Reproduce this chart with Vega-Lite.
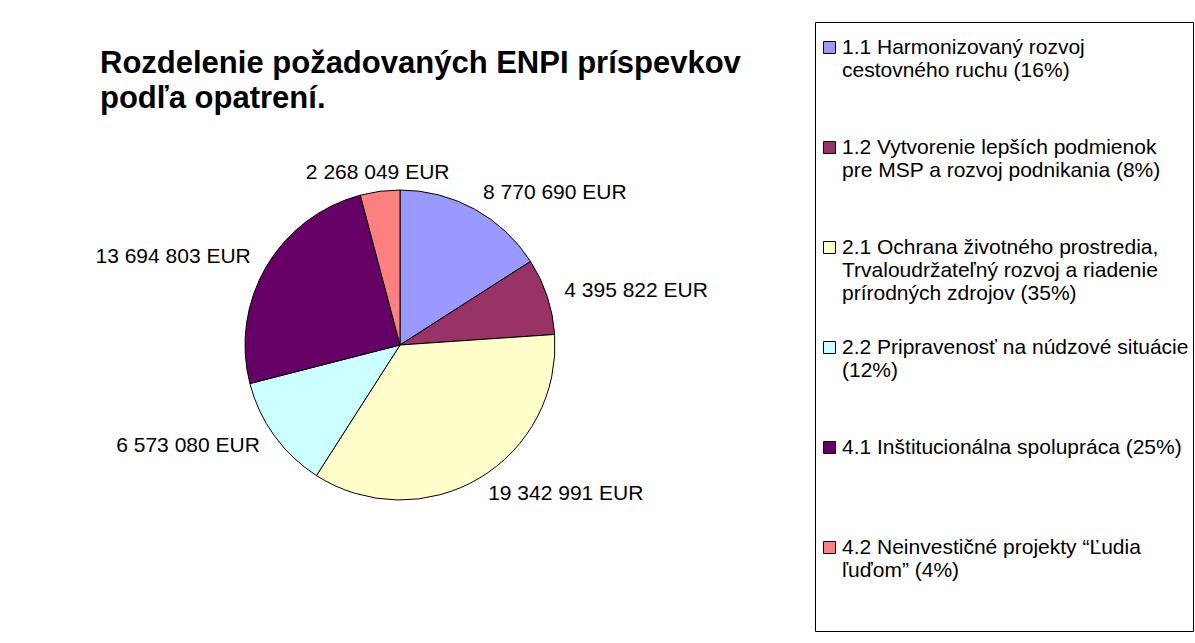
{
  "$schema": "https://vega.github.io/schema/vega-lite/v6.json",
  "autosize": {"type": "none"},
  "width": 780,
  "height": 668,
  "padding": {"left": 10, "top": 11, "right": 405, "bottom": 0},
  "background": "white",
  "title": {
    "text": ["Rozdelenie požadovaných ENPI príspevkov", "podľa opatrení."],
    "anchor": "start",
    "frame": "group",
    "font": "Liberation Sans",
    "fontSize": 31,
    "fontWeight": "bold",
    "lineHeight": 35,
    "color": "black",
    "baseline": "top",
    "dx": 90,
    "dy": 104,
    "offset": 0
  },
  "data": {
    "values": [
      {"cat": "1.1 Harmonizovaný rozvoj|cestovného ruchu (16%)", "eur": 8770690, "eur_text": "8 770 690 EUR"},
      {"cat": "1.2 Vytvorenie lepších podmienok|pre MSP a rozvoj podnikania (8%)", "eur": 4395822, "eur_text": "4 395 822 EUR"},
      {"cat": "2.1 Ochrana životného prostredia,|Trvaloudržateľný rozvoj a riadenie|prírodných zdrojov (35%)", "eur": 19342991, "eur_text": "19 342 991 EUR"},
      {"cat": "2.2 Pripravenosť na núdzové situácie|(12%)", "eur": 6573080, "eur_text": "6 573 080 EUR"},
      {"cat": "4.1 Inštitucionálna spolupráca (25%)", "eur": 13694803, "eur_text": "13 694 803 EUR"},
      {"cat": "4.2 Neinvestičné projekty “Ľudia|ľuďom” (4%)", "eur": 2268049, "eur_text": "2 268 049 EUR"}
    ]
  },
  "encoding": {
    "theta": {"field": "eur", "type": "quantitative", "stack": true},
    "order": {"field": "cat", "type": "ordinal", "sort": "ascending"}
  },
  "layer": [
    {
      "mark": {"type": "arc", "outerRadius": 155, "stroke": "black", "strokeWidth": 1},
      "encoding": {
        "color": {
          "field": "cat",
          "type": "nominal",
          "scale": {"range": ["#9999FF", "#993366", "#FFFFCC", "#CCFFFF", "#660066", "#FF8080"]},
          "legend": {
            "orient": "none",
            "legendX": 805,
            "legendY": 11,
            "title": " ",
            "titleFontSize": 5,
            "titlePadding": 6,
            "strokeColor": "black",
            "fillColor": "white",
            "padding": 4,
            "symbolType": "square",
            "symbolSize": 144,
            "symbolStrokeColor": "black",
            "symbolStrokeWidth": 1,
            "symbolOpacity": 1,
            "labelFont": "Liberation Sans",
            "labelFontSize": 21,
            "labelColor": "black",
            "labelLimit": 600,
            "labelBaseline": "top",
            "labelOffset": 2,
            "rowPadding": 9,
            "labelExpr": "slice(split(datum.label + '|||', '|'), 0, 4)",
            "encode": {"labels": {"update": {"dy": {"value": -11}, "lineHeight": {"value": 23}}}}
          }
        }
      }
    },
    {
      "transform": [{"joinaggregate": [{"op": "sum", "field": "eur", "as": "total"}]}],
      "mark": {
        "type": "text",
        "radius": 173,
        "font": "Liberation Sans",
        "fontSize": 21,
        "color": "black",
        "align": {"expr": "((datum.eur_start + datum.eur_end) / 2 / datum.total) < 0.05 || ((datum.eur_start + datum.eur_end) / 2 / datum.total) > 0.95 ? 'center' : (((datum.eur_start + datum.eur_end) / 2 / datum.total) < 0.5 ? 'left' : 'right')"}
      },
      "encoding": {
        "text": {"field": "eur_text", "type": "nominal"},
        "detail": {"field": "cat", "type": "nominal"}
      }
    }
  ],
  "config": {
    "view": {"stroke": "black", "strokeWidth": 1.5, "strokeDash": [780, 1448, 668, 0]},
    "font": "Liberation Sans"
  }
}
